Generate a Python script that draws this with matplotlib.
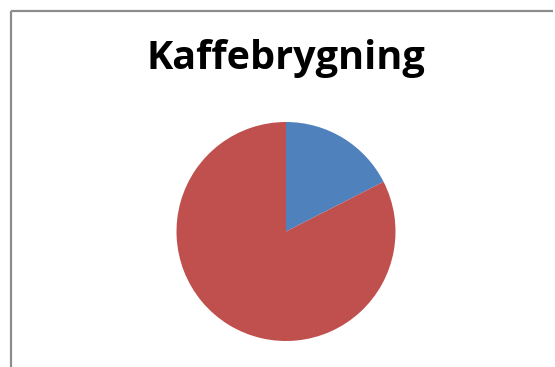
import matplotlib
matplotlib.use("Agg")
import matplotlib.pyplot as plt
from matplotlib.lines import Line2D

# Kaffebrygning pie data
labels = ["Del 1", "Del 2"]
values = [17.5, 82.5]
colors = ["#4F81BD", "#C0504D"]
title = "Kaffebrygning"

W, H = 555, 367
fig = plt.figure(figsize=(W / 100, H / 100), dpi=100)
fig.patch.set_facecolor("white")

# frame on left and top edges
fig.add_artist(Line2D([10.5 / W, 10.5 / W], [0, 1 - 10.5 / H], transform=fig.transFigure,
                      color="#8c8c8c", lw=1.6, solid_capstyle="butt"))
fig.add_artist(Line2D([10.5 / W, 553 / W], [1 - 10.5 / H, 1 - 10.5 / H], transform=fig.transFigure,
                      color="#8c8c8c", lw=1.6, solid_capstyle="butt"))

cx, cy, r = 286, 231.5, 109.5
ax = fig.add_axes([(cx - r) / W, 1 - (cy + r) / H, 2 * r / W, 2 * r / H])
ax.pie(values, colors=colors, startangle=90, counterclock=False, radius=1,
       wedgeprops=dict(linewidth=0))
ax.set_xlim(-1, 1)
ax.set_ylim(-1, 1)
ax.set_aspect("equal")
ax.axis("off")

fig.text(cx / W, 1 - 58.5 / H, title, ha="center", va="center",
         fontsize=28.5, fontweight="bold", family="Open Sans", color="black")

fig.savefig("out.png", dpi=100, facecolor="white")
